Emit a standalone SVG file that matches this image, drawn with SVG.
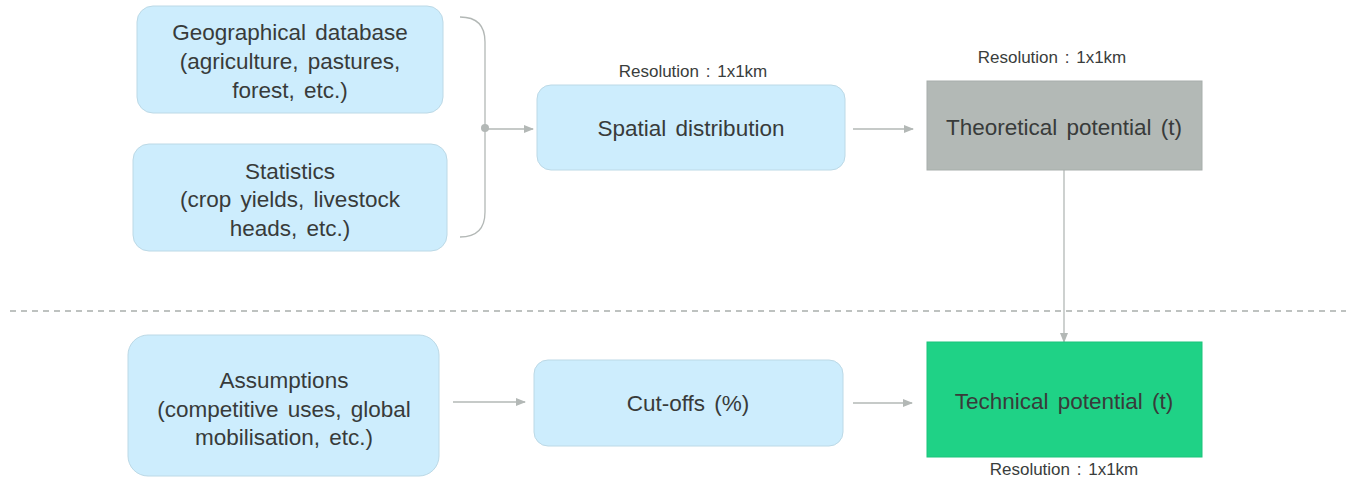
<svg xmlns="http://www.w3.org/2000/svg" width="1354" height="478" viewBox="0 0 1354 478">
<style>
.box{fill:#cdedfd;stroke:#bcd9e6;stroke-width:1}
.t{font-family:"Liberation Sans",Arial,sans-serif;font-size:22.5px;fill:#383b3a;text-anchor:middle;word-spacing:3px}
.r{font-family:"Liberation Sans",Arial,sans-serif;font-size:17px;fill:#3a3d3c;text-anchor:middle;word-spacing:2px}
.c{stroke:#b3b8b6;stroke-width:1.3;fill:none}
</style>
<defs>
<marker id="ah" markerWidth="10" markerHeight="8" refX="9" refY="4" orient="auto" markerUnits="userSpaceOnUse">
<path d="M0,0 L10,4 L0,8 Z" fill="#b3b8b6"/>
</marker>
</defs>
<rect width="1354" height="478" fill="#ffffff"/>
<g id="separator">
<line x1="10" y1="311" x2="1346" y2="311" stroke="#a9aeac" stroke-width="1.3" stroke-dasharray="6,5"/>
</g>
<g id="connectors">
<path class="c" d="M460,17 Q485,17 485,42 L485,212 Q485,237 460,237"/>
<circle cx="485" cy="128" r="4" fill="#b3b8b6"/>
<line class="c" x1="485" y1="129" x2="533" y2="129" marker-end="url(#ah)"/>
<line class="c" x1="853" y1="129" x2="913" y2="129" marker-end="url(#ah)"/>
<line class="c" x1="1064" y1="170" x2="1064" y2="342" marker-end="url(#ah)"/>
<line class="c" x1="453" y1="402" x2="525" y2="402" marker-end="url(#ah)"/>
<line class="c" x1="853" y1="403" x2="912" y2="403" marker-end="url(#ah)"/>
</g>
<g id="geo">
<rect class="box" x="137" y="6" width="306" height="107" rx="16"/>
<text class="t" x="290" y="40">Geographical database</text>
<text class="t" x="290" y="69">(agriculture, pastures,</text>
<text class="t" x="290" y="98">forest, etc.)</text>
</g>
<g id="stats">
<rect class="box" x="133" y="144" width="314" height="107" rx="16"/>
<text class="t" x="290" y="179">Statistics</text>
<text class="t" x="290" y="207">(crop yields, livestock</text>
<text class="t" x="290" y="236">heads, etc.)</text>
</g>
<g id="spatial">
<text class="r" x="693" y="77">Resolution : 1x1km</text>
<rect class="box" x="537" y="85" width="308" height="85" rx="14"/>
<text class="t" x="691" y="136">Spatial distribution</text>
</g>
<g id="theoretical">
<text class="r" x="1052" y="63">Resolution : 1x1km</text>
<rect x="927" y="81" width="275" height="89" fill="#b3b9b6" stroke="#a7aeab" stroke-width="1"/>
<text class="t" x="1064" y="135">Theoretical potential (t)</text>
</g>
<g id="assumptions">
<rect class="box" x="128" y="335" width="311" height="141" rx="20"/>
<text class="t" x="284" y="388">Assumptions</text>
<text class="t" x="284" y="417">(competitive uses, global</text>
<text class="t" x="284" y="445">mobilisation, etc.)</text>
</g>
<g id="cutoffs">
<rect class="box" x="534" y="360" width="309" height="86" rx="14"/>
<text class="t" x="688" y="411">Cut-offs (%)</text>
</g>
<g id="technical">
<rect x="927" y="342" width="275" height="115" fill="#1fd286" stroke="#1bc47b" stroke-width="1"/>
<text class="t" x="1064" y="409">Technical potential (t)</text>
<text class="r" x="1064" y="475">Resolution : 1x1km</text>
</g>
</svg>
